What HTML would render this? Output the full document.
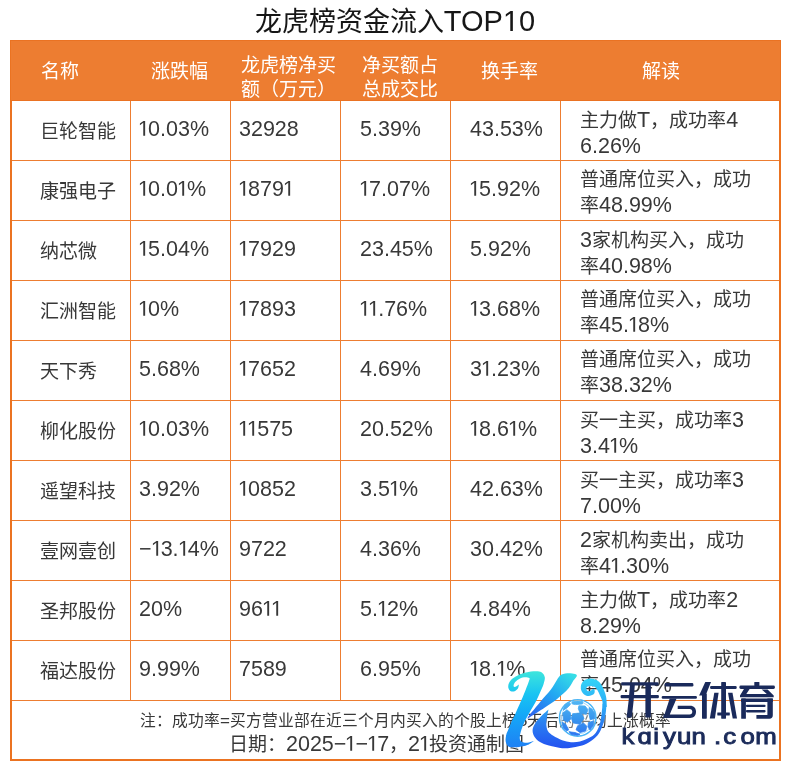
<!DOCTYPE html><html lang="zh-CN"><head><meta charset="utf-8"><style>
*{margin:0;padding:0;box-sizing:border-box}
html,body{width:790px;height:770px;background:#fff;overflow:hidden}
body{position:relative;font-family:"Liberation Sans",sans-serif;color:#383838}
.title{position:absolute;left:0;width:790px;top:4px;color:#161616;text-align:center;font-size:27px;line-height:34px;white-space:nowrap}
.tn{font-size:29px}
.hdr{position:absolute;left:10px;top:40px;width:771px;height:61px;background:#ED7D31}
.hline{position:absolute;left:10px;width:771px;height:1px;background:#EA7222}
.hline.top{top:40px}
.hline.hb{top:100px}
.rl{position:absolute;left:12px;width:767px;height:1px;background:#ED7D31}
.cl{position:absolute;top:101px;height:599px;width:1px;background:#ED7D31}
.ob{position:absolute;background:#EB7321}
.ol{left:10px;top:100px;width:2px;height:661px}
.ol1{left:10px;top:40px;width:1px;height:60px}
.or{left:779px;top:100px;width:2px;height:661px}
.or1{left:780px;top:40px;width:1px;height:60px}
.obt{left:10px;top:759px;width:771px;height:2px}
.h{position:absolute;color:#fff;font-size:19px;line-height:24px;white-space:nowrap}
.d{position:absolute;font-size:19px;line-height:24px;white-space:nowrap}
.n{font-size:21px}
.f1{position:absolute;left:140px;top:711px;font-size:15.75px;line-height:20px;white-space:nowrap}
.fn{font-size:17px}
.f2{position:absolute;left:228.5px;top:732px;font-size:19px;line-height:24px;white-space:nowrap}
.fn2{font-size:21.5px}
.dn{font-size:21.5px}
.d2 .n{font-size:21.5px}
.d2{line-height:24.5px}
.logo{pointer-events:none;overflow:visible}
.o{display:inline-block;width:0.4233em;height:0.688em;vertical-align:baseline;fill:currentColor;overflow:visible}
.o.t1{width:0.5562em}
.d,.h,.f1,.f2,.title{will-change:transform}

</style></head><body>
<div class="title">龙虎榜资金流入<span class="tn">TOP<svg class="o t1" viewBox="0 0 1139 1409"><path d="M515,1409L515,172L197,399L197,229L530,0L696,0L696,1409Z"/></svg>0</span></div>
<div class="hdr"></div>
<div class="hline top"></div><div class="hline hb"></div>
<div class="rl" style="top:160px"></div>
<div class="rl" style="top:220px"></div>
<div class="rl" style="top:280px"></div>
<div class="rl" style="top:340px"></div>
<div class="rl" style="top:400px"></div>
<div class="rl" style="top:460px"></div>
<div class="rl" style="top:520px"></div>
<div class="rl" style="top:580px"></div>
<div class="rl" style="top:640px"></div>
<div class="rl" style="top:700px"></div>
<div class="cl" style="left:130px"></div>
<div class="cl" style="left:230px"></div>
<div class="cl" style="left:340px"></div>
<div class="cl" style="left:450px"></div>
<div class="cl" style="left:560px"></div>
<div class="ob ol"></div><div class="ob or"></div><div class="ob obt"></div><div class="ob ol1"></div><div class="ob or1"></div>
<div class="h" style="left:41px;top:59.5px">名称</div>
<div class="h" style="left:151px;top:59.5px">涨跌幅</div>
<div class="h h2" style="left:241px;top:53.5px">龙虎榜净买<br>额（万元）</div>
<div class="h h2" style="left:362px;top:53.5px">净买额占<br>总成交比</div>
<div class="h" style="left:481px;top:59.5px">换手率</div>
<div class="h" style="left:642px;top:59.5px">解读</div>
<div class="d" style="left:40px;top:119.5px">巨轮智能</div>
<div class="d dn" style="left:139px;top:117px"><svg class="o" viewBox="110 0 867 1409"><path d="M515,1409L515,172L197,399L197,229L530,0L696,0L696,1409Z"/></svg>0.03%</div>
<div class="d dn" style="left:239px;top:117px">32928</div>
<div class="d dn" style="left:359.5px;top:117px">5.39%</div>
<div class="d dn" style="left:469.5px;top:117px">43.53%</div>
<div class="d d2" style="left:580px;top:108px">主力做<span class="n">T</span>，成功率<span class="n">4</span><br><span class="n">6.26%</span></div>
<div class="d" style="left:40px;top:179.5px">康强电子</div>
<div class="d dn" style="left:139px;top:177px"><svg class="o" viewBox="110 0 867 1409"><path d="M515,1409L515,172L197,399L197,229L530,0L696,0L696,1409Z"/></svg>0.0<svg class="o" viewBox="110 0 867 1409"><path d="M515,1409L515,172L197,399L197,229L530,0L696,0L696,1409Z"/></svg>%</div>
<div class="d dn" style="left:239px;top:177px"><svg class="o" viewBox="110 0 867 1409"><path d="M515,1409L515,172L197,399L197,229L530,0L696,0L696,1409Z"/></svg>879<svg class="o" viewBox="110 0 867 1409"><path d="M515,1409L515,172L197,399L197,229L530,0L696,0L696,1409Z"/></svg></div>
<div class="d dn" style="left:359.5px;top:177px"><svg class="o" viewBox="110 0 867 1409"><path d="M515,1409L515,172L197,399L197,229L530,0L696,0L696,1409Z"/></svg>7.07%</div>
<div class="d dn" style="left:469.5px;top:177px"><svg class="o" viewBox="110 0 867 1409"><path d="M515,1409L515,172L197,399L197,229L530,0L696,0L696,1409Z"/></svg>5.92%</div>
<div class="d d2" style="left:580px;top:168px">普通席位买入，成功<br>率<span class="n">48.99%</span></div>
<div class="d" style="left:40px;top:239.5px">纳芯微</div>
<div class="d dn" style="left:139px;top:237px"><svg class="o" viewBox="110 0 867 1409"><path d="M515,1409L515,172L197,399L197,229L530,0L696,0L696,1409Z"/></svg>5.04%</div>
<div class="d dn" style="left:239px;top:237px"><svg class="o" viewBox="110 0 867 1409"><path d="M515,1409L515,172L197,399L197,229L530,0L696,0L696,1409Z"/></svg>7929</div>
<div class="d dn" style="left:359.5px;top:237px">23.45%</div>
<div class="d dn" style="left:469.5px;top:237px">5.92%</div>
<div class="d d2" style="left:580px;top:228px"><span class="n">3</span>家机构买入，成功<br>率<span class="n">40.98%</span></div>
<div class="d" style="left:40px;top:299.5px">汇洲智能</div>
<div class="d dn" style="left:139px;top:297px"><svg class="o" viewBox="110 0 867 1409"><path d="M515,1409L515,172L197,399L197,229L530,0L696,0L696,1409Z"/></svg>0%</div>
<div class="d dn" style="left:239px;top:297px"><svg class="o" viewBox="110 0 867 1409"><path d="M515,1409L515,172L197,399L197,229L530,0L696,0L696,1409Z"/></svg>7893</div>
<div class="d dn" style="left:359.5px;top:297px"><svg class="o" viewBox="110 0 867 1409"><path d="M515,1409L515,172L197,399L197,229L530,0L696,0L696,1409Z"/></svg><svg class="o" viewBox="110 0 867 1409"><path d="M515,1409L515,172L197,399L197,229L530,0L696,0L696,1409Z"/></svg>.76%</div>
<div class="d dn" style="left:469.5px;top:297px"><svg class="o" viewBox="110 0 867 1409"><path d="M515,1409L515,172L197,399L197,229L530,0L696,0L696,1409Z"/></svg>3.68%</div>
<div class="d d2" style="left:580px;top:288px">普通席位买入，成功<br>率<span class="n">45.<svg class="o" viewBox="110 0 867 1409"><path d="M515,1409L515,172L197,399L197,229L530,0L696,0L696,1409Z"/></svg>8%</span></div>
<div class="d" style="left:40px;top:359.5px">天下秀</div>
<div class="d dn" style="left:139px;top:357px">5.68%</div>
<div class="d dn" style="left:239px;top:357px"><svg class="o" viewBox="110 0 867 1409"><path d="M515,1409L515,172L197,399L197,229L530,0L696,0L696,1409Z"/></svg>7652</div>
<div class="d dn" style="left:359.5px;top:357px">4.69%</div>
<div class="d dn" style="left:469.5px;top:357px">3<svg class="o" viewBox="110 0 867 1409"><path d="M515,1409L515,172L197,399L197,229L530,0L696,0L696,1409Z"/></svg>.23%</div>
<div class="d d2" style="left:580px;top:348px">普通席位买入，成功<br>率<span class="n">38.32%</span></div>
<div class="d" style="left:40px;top:419.5px">柳化股份</div>
<div class="d dn" style="left:139px;top:417px"><svg class="o" viewBox="110 0 867 1409"><path d="M515,1409L515,172L197,399L197,229L530,0L696,0L696,1409Z"/></svg>0.03%</div>
<div class="d dn" style="left:239px;top:417px"><svg class="o" viewBox="110 0 867 1409"><path d="M515,1409L515,172L197,399L197,229L530,0L696,0L696,1409Z"/></svg><svg class="o" viewBox="110 0 867 1409"><path d="M515,1409L515,172L197,399L197,229L530,0L696,0L696,1409Z"/></svg>575</div>
<div class="d dn" style="left:359.5px;top:417px">20.52%</div>
<div class="d dn" style="left:469.5px;top:417px"><svg class="o" viewBox="110 0 867 1409"><path d="M515,1409L515,172L197,399L197,229L530,0L696,0L696,1409Z"/></svg>8.6<svg class="o" viewBox="110 0 867 1409"><path d="M515,1409L515,172L197,399L197,229L530,0L696,0L696,1409Z"/></svg>%</div>
<div class="d d2" style="left:580px;top:408px">买一主买，成功率<span class="n">3</span><br><span class="n">3.4<svg class="o" viewBox="110 0 867 1409"><path d="M515,1409L515,172L197,399L197,229L530,0L696,0L696,1409Z"/></svg>%</span></div>
<div class="d" style="left:40px;top:479.5px">遥望科技</div>
<div class="d dn" style="left:139px;top:477px">3.92%</div>
<div class="d dn" style="left:239px;top:477px"><svg class="o" viewBox="110 0 867 1409"><path d="M515,1409L515,172L197,399L197,229L530,0L696,0L696,1409Z"/></svg>0852</div>
<div class="d dn" style="left:359.5px;top:477px">3.5<svg class="o" viewBox="110 0 867 1409"><path d="M515,1409L515,172L197,399L197,229L530,0L696,0L696,1409Z"/></svg>%</div>
<div class="d dn" style="left:469.5px;top:477px">42.63%</div>
<div class="d d2" style="left:580px;top:468px">买一主买，成功率<span class="n">3</span><br><span class="n">7.00%</span></div>
<div class="d" style="left:40px;top:539.5px">壹网壹创</div>
<div class="d dn" style="left:139px;top:537px">−<svg class="o" viewBox="110 0 867 1409"><path d="M515,1409L515,172L197,399L197,229L530,0L696,0L696,1409Z"/></svg>3.<svg class="o" viewBox="110 0 867 1409"><path d="M515,1409L515,172L197,399L197,229L530,0L696,0L696,1409Z"/></svg>4%</div>
<div class="d dn" style="left:239px;top:537px">9722</div>
<div class="d dn" style="left:359.5px;top:537px">4.36%</div>
<div class="d dn" style="left:469.5px;top:537px">30.42%</div>
<div class="d d2" style="left:580px;top:528px"><span class="n">2</span>家机构卖出，成功<br>率<span class="n">4<svg class="o" viewBox="110 0 867 1409"><path d="M515,1409L515,172L197,399L197,229L530,0L696,0L696,1409Z"/></svg>.30%</span></div>
<div class="d" style="left:40px;top:599.5px">圣邦股份</div>
<div class="d dn" style="left:139px;top:597px">20%</div>
<div class="d dn" style="left:239px;top:597px">96<svg class="o" viewBox="110 0 867 1409"><path d="M515,1409L515,172L197,399L197,229L530,0L696,0L696,1409Z"/></svg><svg class="o" viewBox="110 0 867 1409"><path d="M515,1409L515,172L197,399L197,229L530,0L696,0L696,1409Z"/></svg></div>
<div class="d dn" style="left:359.5px;top:597px">5.<svg class="o" viewBox="110 0 867 1409"><path d="M515,1409L515,172L197,399L197,229L530,0L696,0L696,1409Z"/></svg>2%</div>
<div class="d dn" style="left:469.5px;top:597px">4.84%</div>
<div class="d d2" style="left:580px;top:588px">主力做<span class="n">T</span>，成功率<span class="n">2</span><br><span class="n">8.29%</span></div>
<div class="d" style="left:40px;top:659.5px">福达股份</div>
<div class="d dn" style="left:139px;top:657px">9.99%</div>
<div class="d dn" style="left:239px;top:657px">7589</div>
<div class="d dn" style="left:359.5px;top:657px">6.95%</div>
<div class="d dn" style="left:469.5px;top:657px"><svg class="o" viewBox="110 0 867 1409"><path d="M515,1409L515,172L197,399L197,229L530,0L696,0L696,1409Z"/></svg>8.<svg class="o" viewBox="110 0 867 1409"><path d="M515,1409L515,172L197,399L197,229L530,0L696,0L696,1409Z"/></svg>%</div>
<div class="d d2" style="left:580px;top:648px">普通席位买入，成功<br>率<span class="n">45.04%</span></div>
<div class="f1">注：成功率<span class="fn">=</span>买方营业部在近三个月内买入的个股上榜<span class="fn">5</span>天后的平均上涨概率</div>
<div class="f2">日期：<span class="fn2">2025−<svg class="o" viewBox="110 0 867 1409"><path d="M515,1409L515,172L197,399L197,229L530,0L696,0L696,1409Z"/></svg>−<svg class="o" viewBox="110 0 867 1409"><path d="M515,1409L515,172L197,399L197,229L530,0L696,0L696,1409Z"/></svg>7</span>，<span class="fn2">2<svg class="o" viewBox="110 0 867 1409"><path d="M515,1409L515,172L197,399L197,229L530,0L696,0L696,1409Z"/></svg></span>投资通制图</div>
<svg class="logo" width="790" height="770" viewBox="0 0 790 770" style="position:absolute;left:0;top:0">
<defs>
<linearGradient id="g1" gradientUnits="userSpaceOnUse" x1="0" y1="671" x2="0" y2="748">
<stop offset="0" stop-color="#3EE6DC"/><stop offset="0.3" stop-color="#19C4F2"/><stop offset="0.55" stop-color="#14AAF8"/><stop offset="1" stop-color="#1E80F4"/>
</linearGradient>
<linearGradient id="g2" gradientUnits="userSpaceOnUse" x1="570" y1="673" x2="532" y2="718">
<stop offset="0" stop-color="#36DDE6"/><stop offset="0.45" stop-color="#22A8F2"/><stop offset="1" stop-color="#2B62F0"/>
</linearGradient>
<linearGradient id="g3" gradientUnits="userSpaceOnUse" x1="0" y1="679" x2="0" y2="748">
<stop offset="0" stop-color="#3AD6F8"/><stop offset="0.42" stop-color="#2DA8F6"/><stop offset="0.62" stop-color="#2A82F2"/><stop offset="1" stop-color="#2352F0"/>
</linearGradient>
<linearGradient id="g4" gradientUnits="userSpaceOnUse" x1="0" y1="678" x2="0" y2="708">
<stop offset="0" stop-color="#33D6F8"/><stop offset="1" stop-color="#2AA6F6"/>
</linearGradient>
</defs>
<path fill="url(#g1)" d="M535.70,671.20 C538.28,671.18 539.98,671.30 541.50,672.30 C543.02,673.30 544.45,675.25 544.80,677.20 C545.15,679.15 544.17,681.93 543.60,684.00 C543.03,686.07 542.60,686.85 541.40,689.60 C540.20,692.35 538.37,696.68 536.40,700.50 C534.43,704.32 531.70,708.68 529.60,712.50 C527.50,716.32 525.37,719.82 523.80,723.40 C522.23,726.98 520.80,731.18 520.20,734.00 C519.60,736.82 519.57,738.87 520.20,740.30 C520.83,741.73 522.53,742.25 524.00,742.60 C525.47,742.95 527.33,742.67 529.00,742.40 C530.67,742.13 534.00,741.00 534.00,741.00 C534.00,741.00 529.87,743.93 528.00,744.80 C526.13,745.67 524.93,745.80 522.80,746.20 C520.67,746.60 517.60,747.17 515.20,747.20 C512.80,747.23 509.98,747.35 508.40,746.40 C506.82,745.45 506.07,743.40 505.70,741.50 C505.33,739.60 505.75,737.03 506.20,735.00 C506.65,732.97 507.43,731.72 508.40,729.30 C509.37,726.88 510.80,723.18 512.00,720.50 C513.20,717.82 514.07,716.53 515.60,713.20 C517.13,709.87 519.50,704.47 521.20,700.50 C522.90,696.53 524.53,692.57 525.80,689.40 C527.07,686.23 528.22,683.40 528.80,681.50 C529.38,679.60 530.10,678.70 529.30,678.00 C528.50,677.30 525.83,677.05 524.00,677.30 C522.17,677.55 519.88,678.55 518.30,679.50 C516.72,680.45 515.28,681.87 514.50,683.00 C513.72,684.13 513.42,685.67 513.60,686.30 C513.78,686.93 514.72,687.08 515.60,686.80 C516.48,686.52 518.90,684.60 518.90,684.60 C518.90,684.60 518.62,687.48 517.90,688.60 C517.18,689.72 515.78,690.87 514.60,691.30 C513.42,691.73 511.83,691.75 510.80,691.20 C509.77,690.65 508.72,689.33 508.40,688.00 C508.08,686.67 508.20,684.77 508.90,683.20 C509.60,681.63 511.00,679.97 512.60,678.60 C514.20,677.23 516.27,676.03 518.50,675.00 C520.73,673.97 523.13,673.03 526.00,672.40 C528.87,671.77 533.12,671.22 535.70,671.20Z"/>
<path fill="url(#g2)" d="M560.10,675.60 C561.22,674.50 562.10,674.28 563.30,673.90 C564.50,673.52 565.82,673.35 567.30,673.30 C568.78,673.25 570.60,673.25 572.20,673.60 C573.80,673.95 576.70,674.23 576.90,675.40 C577.10,676.57 574.78,678.45 573.40,680.60 C572.02,682.75 571.22,685.33 568.60,688.30 C565.98,691.27 561.72,695.17 557.70,698.40 C553.68,701.63 548.92,704.72 544.50,707.70 C540.08,710.68 534.07,714.45 531.20,716.30 C528.33,718.15 527.30,718.80 527.30,718.80 C527.30,718.80 527.48,717.68 529.70,714.80 C531.92,711.92 537.10,705.67 540.60,701.50 C544.10,697.33 548.03,693.30 550.70,689.80 C553.37,686.30 555.03,682.87 556.60,680.50 C558.17,678.13 558.98,676.70 560.10,675.60Z"/>
<path fill="url(#g3)" d="M548.60,709.60 C548.60,709.60 547.78,712.70 547.40,715.00 C547.02,717.30 546.22,720.73 546.30,723.40 C546.38,726.07 546.73,728.93 547.90,731.00 C549.07,733.07 550.93,734.27 553.30,735.80 C555.67,737.33 559.15,739.13 562.10,740.20 C565.05,741.27 568.03,741.97 571.00,742.20 C573.97,742.43 576.95,742.28 579.90,741.60 C582.85,740.92 586.05,739.58 588.70,738.10 C591.35,736.62 593.87,735.38 595.80,732.70 C597.73,730.02 599.23,726.12 600.30,722.00 C601.37,717.88 601.78,711.08 602.20,708.00 C602.62,704.92 602.15,704.08 602.80,703.50 C603.45,702.92 605.63,702.75 606.10,704.50 C606.57,706.25 606.15,710.58 605.60,714.00 C605.05,717.42 604.13,721.45 602.80,725.00 C601.47,728.55 599.95,732.40 597.60,735.30 C595.25,738.20 591.65,740.62 588.70,742.40 C585.75,744.18 582.85,745.12 579.90,746.00 C576.95,746.88 573.97,747.33 571.00,747.70 C568.03,748.07 565.78,748.57 562.10,748.20 C558.42,747.83 552.58,746.53 548.90,745.50 C545.22,744.47 542.38,743.42 540.00,742.00 C537.62,740.58 535.83,738.83 534.60,737.00 C533.37,735.17 532.67,733.02 532.60,731.00 C532.53,728.98 532.87,727.27 534.20,724.90 C535.53,722.53 538.20,719.35 540.60,716.80 C543.00,714.25 548.60,709.60 548.60,709.60Z"/>
<path fill="url(#g4)" d="M602.90,707.00 C602.90,707.00 602.78,702.92 602.30,701.00 C601.82,699.08 600.83,697.33 600.00,695.50 C599.17,693.67 598.22,691.45 597.30,690.00 C596.38,688.55 595.72,687.47 594.50,686.80 C593.28,686.13 591.25,685.98 590.00,686.00 C588.75,686.02 587.60,686.35 587.00,686.90 C586.40,687.45 586.23,688.58 586.40,689.30 C586.57,690.02 587.30,690.95 588.00,691.20 C588.70,691.45 589.83,691.13 590.60,690.80 C591.37,690.47 592.00,689.45 592.60,689.20 C593.20,688.95 593.85,688.90 594.20,689.30 C594.55,689.70 594.80,690.77 594.70,691.60 C594.60,692.43 594.58,693.58 593.60,694.30 C592.62,695.02 590.32,695.83 588.80,695.90 C587.28,695.97 585.72,695.52 584.50,694.70 C583.28,693.88 582.08,692.53 581.50,691.00 C580.92,689.47 580.58,687.23 581.00,685.50 C581.42,683.77 582.48,681.78 584.00,680.60 C585.52,679.42 587.93,678.45 590.10,678.40 C592.27,678.35 595.10,679.20 597.00,680.30 C598.90,681.40 600.25,683.13 601.50,685.00 C602.75,686.87 603.70,689.33 604.50,691.50 C605.30,693.67 605.92,695.42 606.30,698.00 C606.68,700.58 606.80,707.00 606.80,707.00 C606.80,707.00 602.90,707.00 602.90,707.00Z"/>
<defs><linearGradient id="gb" gradientUnits="userSpaceOnUse" x1="0" y1="700" x2="0" y2="736">
<stop offset="0" stop-color="#52B8F4"/><stop offset="0.5" stop-color="#3897EE"/><stop offset="1" stop-color="#2F74F0"/></linearGradient></defs>
<g>
<circle cx="577.7" cy="717.9" r="18.2" fill="none" stroke="#4DB6F5" stroke-width="1.6"/>
<circle cx="577.7" cy="717.9" r="16.9" fill="#FFFFFF" fill-opacity="0.35" stroke="#FFFFFF" stroke-width="0.9"/>
<circle cx="577.7" cy="717.9" r="16.1" fill="none" stroke="#7CC8F6" stroke-width="0.7"/>
<g fill="url(#gb)" stroke="url(#gb)" stroke-width="0.8" stroke-linejoin="round">
<polygon points="572.6,713.7 581.1,712.9 584,718.3 580,724.3 573.1,722.9 571.4,718.3"/>
<polygon points="578.9,705.7 585.1,706 588,709.7 586.3,714.3 580,713.1 578.3,708.6"/>
<polygon points="572,701.8 577.5,701 582.9,701.6 582.5,704 575.5,704.6 572.3,704"/>
<polygon points="566.9,709.7 570.3,712.6 570.9,718.9 567.4,722.3 563.4,720 562.9,713.1"/>
<polygon points="565,704.5 569.5,702.4 570.3,704.8 566.5,708.3 563,710.3"/>
<polygon points="589.1,707.5 592,709 594.5,713 594.8,718.5 590.2,719.8 588.9,713.5"/>
<polygon points="577.7,725.7 583.4,722.9 586.9,726.3 585.7,730.9 580,732.6 576,729.7"/>
<polygon points="561.9,722 565.6,724 568.6,729.6 566.8,731 563.3,728"/>
<polygon points="569,731.8 575,732.5 580,734.4 577.5,735.3 571.5,734.5"/>
<polygon points="588.4,722.5 593.8,720.8 593.2,725.8 590,730 587.9,727"/>
</g>
</g>
</svg>
<svg class="logo" width="790" height="770" style="position:absolute;left:0;top:0"><g fill="#1A2A5B"><rect x="621.1" y="682.3" width="37.5" height="3.2" rx="1.2"/><rect x="620.6" y="694.9" width="38.3" height="3.4" rx="1.2"/><polygon points="630.0,685.0 634.8,685.0 633.6,701.0 631.8,717.4 626.6,717.4 628.6,701.0"/><rect x="645.4" y="685.0" width="5.5" height="32.4" rx="0.6"/><rect x="664.6" y="683.1" width="28.8" height="3.5" rx="1.4"/><rect x="661.7" y="695.9" width="35.2" height="2.9" rx="1.2"/><polygon points="669.7,698.5 676.6,698.5 669.6,714.8 663.4,718.0"/><path d="M677.7,705.7 L690,705.7 C694,705.7 696,708.2 696,711.85 C696,715.5 694,718 690,718 L663.4,718 L663.4,714.6 L689.5,714.6 C691.4,714.6 692.3,713.4 692.3,711.85 C692.3,710.3 691.4,709.1 689.5,709.1 L677.7,709.1 Z"/><polygon points="705.3,682.0 711.0,682.0 705.6,695.6 699.1,695.6"/><rect x="702.0" y="693.5" width="4.8" height="25.2" rx="0.6"/><rect x="710.1" y="685.9" width="26.6" height="3.0" rx="1.2"/><rect x="721.2" y="682.0" width="4.8" height="36.7" rx="0.4"/><polygon points="714.3,692.7 718.6,692.7 714.9,718.5 709.8,718.5"/><polygon points="728.0,692.7 732.5,692.7 737.0,718.5 732.7,718.5"/><rect x="717.3" y="712.4" width="12.5" height="3.0" rx="0.4"/><rect x="754.3" y="682.0" width="5.1" height="4.0" rx="0.4"/><rect x="739.4" y="685.6" width="35.5" height="3.3" rx="1.4"/><polygon points="744.1,688.8 749.8,688.8 746.3,693.9 766.8,693.9 761.6,689.4 767.6,689.4 773.7,695.5 773.7,697.2 740.0,697.2 740.0,695.5"/><rect x="741.2" y="698.4" width="4.7" height="20.3" rx="0.5"/><rect x="741.2" y="698.4" width="31.6" height="3.6" rx="0.5"/><path d="M767.4,698.4 L772.8,698.4 L772.8,715.2 C772.8,717.4 771.6,718.7 769.5,718.7 L756.4,718.7 L756.4,715.1 L767.4,715.1 Z"/><rect x="745.9" y="704.7" width="19.7" height="2.4" rx="1.1"/><rect x="745.9" y="710.0" width="19.7" height="2.4" rx="1.1"/></g></svg>
<svg class="logo" width="790" height="770" style="position:absolute;left:0;top:0"><text transform="scale(1.2,1)" x="517.85 531.33 544.48 552.41 564.27 576.26 595.10 602.79 617.14 629.31" y="743.7" font-family="Liberation Sans" font-weight="400" font-size="21.5" fill="#1B2B5A" stroke="#1B2B5A" stroke-width="0.9">kɑiyun.com</text></svg>
</body></html>
